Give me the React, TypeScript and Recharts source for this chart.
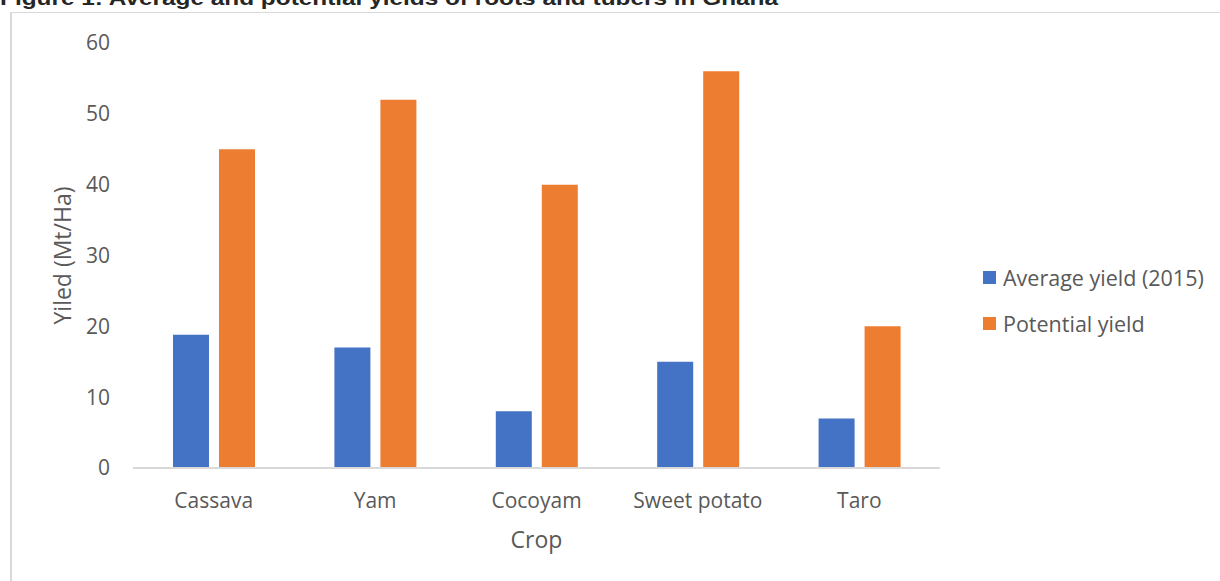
import React from 'react';
import { BarChart, Bar, XAxis, YAxis, Label } from 'recharts';

const titleText = 'Figure 1: Average and potential yields of roots and tubers in Ghana';
const categories = ['Cassava', 'Yam', 'Cocoyam', 'Sweet potato', 'Taro'];
const averageYield = [18.8, 17, 8, 15, 7];
const potentialYield = [45, 52, 40, 56, 20];
const yTicks = [0, 10, 20, 30, 40, 50, 60];
const seriesNames = ['Average yield (2015)', 'Potential yield'];
const seriesColors = ['#4472C4', '#ED7D31'];

const data = categories.map((c, i) => ({
  crop: c,
  avg: averageYield[i],
  pot: potentialYield[i],
}));

const FONT = '"Open Sans", sans-serif';
const GRAY = '#595959';

export default function App() {
  return (
    <div style={{ position: 'absolute', left: 0, top: 0, width: 1220, height: 581, background: '#fff', overflow: 'hidden' }}>
      <svg width={1220} height={20} style={{ position: 'absolute', left: 0, top: 0 }}>
        <text x={0} y={5} fontFamily='"Liberation Sans", Arial, sans-serif' fontWeight="bold" fontSize={20} fill="#262626" textLength={778} lengthAdjust="spacingAndGlyphs">
          {titleText}
        </text>
      </svg>
      <div style={{ position: 'absolute', left: 10, top: 12, width: 1300, height: 700, borderTop: '1.5px solid #d9d9d9', borderLeft: '2px solid #d9d9d9', boxSizing: 'border-box' }} />
      <div style={{ position: 'absolute', left: 0, top: 0 }}>
        <BarChart width={1220} height={581} data={data} margin={{ top: 43, right: 280, bottom: 0, left: 0 }} barGap={10} barSize={36}>
          <XAxis
            dataKey="crop"
            height={113}
            axisLine={{ stroke: '#d9d9d9', strokeWidth: 2 }}
            tickLine={false}
            tickSize={0}
            tickMargin={25}
            tick={{ fill: GRAY, fontSize: 21, fontFamily: FONT }}
          >
            <Label value="Crop" position="insideTop" offset={64} fill={GRAY} fontSize={23} fontFamily={FONT} />
          </XAxis>
          <YAxis
            width={133}
            domain={[0, 60]}
            ticks={yTicks}
            axisLine={false}
            tickLine={false}
            tickSize={0}
            tickMargin={23}
            tick={{ fill: GRAY, fontSize: 21, fontFamily: FONT }}
          >
            <Label value="Yiled (Mt/Ha)" angle={-90} position="center" dx={-4} fill={GRAY} fontSize={23} fontFamily={FONT} />
          </YAxis>
          <Bar dataKey="avg" name={seriesNames[0]} fill={seriesColors[0]} isAnimationActive={false} />
          <Bar dataKey="pot" name={seriesNames[1]} fill={seriesColors[1]} isAnimationActive={false} />
        </BarChart>
      </div>
      {seriesNames.map((n, i) => (
        <div key={n} style={{ position: 'absolute', left: 983, top: 262 + i * 46, height: 30, display: 'flex', alignItems: 'center', fontFamily: FONT, fontSize: 21.5, color: GRAY, whiteSpace: 'nowrap' }}>
          <span style={{ display: 'inline-block', width: 13, height: 13, background: seriesColors[i], marginRight: 7 }} />
          <span>{n}</span>
        </div>
      ))}
    </div>
  );
}
